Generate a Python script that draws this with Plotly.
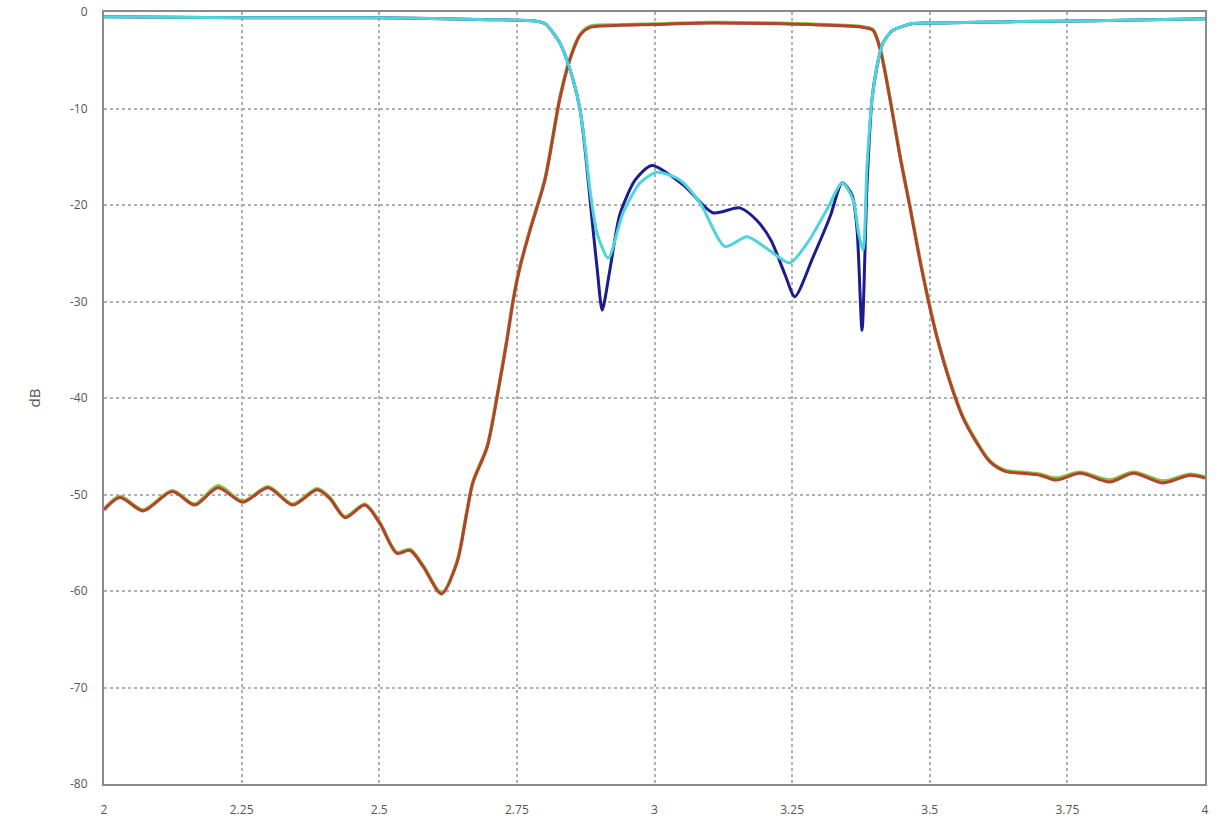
import plotly.graph_objects as go

# S21 (red) - transmission
f_s21 = [2.0, 2.029, 2.071, 2.124, 2.165, 2.207, 2.252, 2.298, 2.343, 2.387, 2.41, 2.438, 2.474,
         2.501, 2.532, 2.556, 2.580, 2.613, 2.641, 2.659, 2.670, 2.696, 2.714, 2.732, 2.743,
         2.755, 2.774, 2.801, 2.828, 2.846, 2.865, 2.883, 2.93, 3.0, 3.1, 3.2, 3.3,
         3.379, 3.397, 3.410, 3.428, 3.446, 3.464, 3.482, 3.497, 3.513, 3.537, 3.560, 3.586,
         3.609, 3.637, 3.669, 3.700, 3.730, 3.773, 3.827, 3.870, 3.924, 3.973, 4.0]
s21 = [-51.6, -50.3, -51.7, -49.7, -51.1, -49.3, -50.8, -49.3, -51.1, -49.5, -50.4, -52.4, -51.1,
       -53.0, -56.1, -55.8, -57.5, -60.3, -57.1, -51.9, -48.8, -45.1, -39.9, -34.0, -30.0,
       -26.6, -22.6, -17.4, -9.0, -5.0, -2.4, -1.6, -1.4, -1.3, -1.15, -1.2, -1.35,
       -1.6, -1.9, -3.9, -9.1, -15.0, -20.2, -25.7, -29.8, -33.7, -38.4, -42.0, -44.7,
       -46.6, -47.6, -47.8, -48.0, -48.5, -47.8, -48.7, -47.8, -48.8, -48.0, -48.3]

# S12 (green) - nearly identical to S21, mostly hidden
f_s12 = f_s21
s12 = [-51.5, -50.2, -51.6, -49.6, -51.0, -49.1, -50.7, -49.2, -51.0, -49.4, -50.3, -52.3, -51.0,
       -52.9, -56.0, -55.7, -57.4, -60.2, -57.0, -51.8, -48.7, -45.0, -39.8, -33.9, -29.9,
       -26.5, -22.5, -17.3, -8.9, -4.9, -2.3, -1.5, -1.35, -1.25, -1.1, -1.15, -1.3,
       -1.55, -1.85, -3.8, -9.0, -14.9, -20.1, -25.6, -29.7, -33.6, -38.3, -41.9, -44.6,
       -46.5, -47.5, -47.7, -47.9, -48.3, -47.7, -48.5, -47.7, -48.6, -47.9, -48.2]

# S11 (dark blue) - reflection
f_s11 = [2.0, 2.25, 2.5, 2.70, 2.78, 2.801, 2.828, 2.852, 2.865, 2.874, 2.883, 2.896, 2.905,
         2.919, 2.937, 2.965, 2.995, 3.052, 3.106, 3.155, 3.186, 3.212, 3.237, 3.255, 3.288,
         3.319, 3.341, 3.359, 3.368, 3.377, 3.386, 3.395, 3.404, 3.415, 3.433, 3.470, 3.519,
         3.65, 3.8, 4.0]
s11 = [-0.5, -0.6, -0.6, -0.8, -0.9, -1.2, -3.2, -7.0, -10.2, -14.3, -19.5, -26.7, -30.9,
       -26.7, -21.0, -17.4, -15.9, -17.9, -20.8, -20.3, -21.6, -23.7, -27.2, -29.5, -25.4,
       -21.2, -17.7, -19.0, -22.6, -33.0, -18.0, -9.1, -5.7, -3.2, -1.9, -1.2, -1.15,
       -1.0, -0.9, -0.7]

# S22 (cyan) - reflection
f_s22 = [2.0, 2.25, 2.5, 2.70, 2.78, 2.801, 2.828, 2.852, 2.865, 2.874, 2.883, 2.896, 2.916,
         2.943, 2.974, 3.005, 3.046, 3.083, 3.128, 3.168, 3.204, 3.246, 3.277, 3.313, 3.341,
         3.361, 3.371, 3.379, 3.386, 3.395, 3.404, 3.415, 3.433, 3.470, 3.519, 3.65, 3.8, 4.0]
s22 = [-0.5, -0.6, -0.6, -0.8, -0.9, -1.2, -3.2, -7.0, -10.2, -14.0, -18.5, -23.0, -25.5,
       -20.8, -17.7, -16.6, -17.4, -19.8, -24.3, -23.3, -24.5, -26.0, -24.0, -20.5, -17.7,
       -19.5, -23.0, -24.7, -16.0, -9.1, -5.7, -3.2, -1.9, -1.2, -1.15, -1.0, -0.9, -0.7]

x_ticks = [2, 2.25, 2.5, 2.75, 3, 3.25, 3.5, 3.75, 4]
x_tick_text = ["2", "2.25", "2.5", "2.75", "3", "3.25", "3.5", "3.75", "4"]
y_ticks = [0, -10, -20, -30, -40, -50, -60, -70, -80]
y_tick_text = ["0", "-10", "-20", "-30", "-40", "-50", "-60", "-70", "-80"]

fig = go.Figure()
fig.add_trace(go.Scatter(x=f_s12, y=s12, mode="lines", name="S12",
                         line=dict(color="#86c440", width=3.5, shape="spline", smoothing=0.8)))
fig.add_trace(go.Scatter(x=f_s21, y=s21, mode="lines", name="S21",
                         line=dict(color="#b2432c", width=3, shape="spline", smoothing=0.8)))
fig.add_trace(go.Scatter(x=f_s11, y=s11, mode="lines", name="S11",
                         line=dict(color="#1c1c8e", width=3, shape="spline", smoothing=0.7)))
fig.add_trace(go.Scatter(x=f_s22, y=s22, mode="lines", name="S22",
                         line=dict(color="#4dd4dc", width=3, shape="spline", smoothing=0.7)))

axis_common = dict(showline=True, linecolor="#8a8a8a", linewidth=2, mirror=True,
                   showgrid=True, gridcolor="#b0b0b0", griddash="dot", gridwidth=1.5,
                   zeroline=False, ticks="", automargin=False,
                   tickfont=dict(family="Open Sans", size=12, color="#555555"))

fig.update_layout(
    width=1219, height=824,
    margin=dict(l=104, r=14, t=12, b=40),
    paper_bgcolor="white", plot_bgcolor="white",
    showlegend=False,
    font=dict(family="Open Sans", color="#555555"),
    xaxis=dict(range=[2, 4], tickvals=x_ticks, ticktext=x_tick_text,
               ticklabelstandoff=14, **axis_common),
    yaxis=dict(range=[-80, 0], tickvals=y_ticks, ticktext=y_tick_text, ticklabelstandoff=12,
               title=dict(text="dB", font=dict(size=15, color="#555555"), standoff=26),
               **axis_common),
)

fig.write_html("out.html")
